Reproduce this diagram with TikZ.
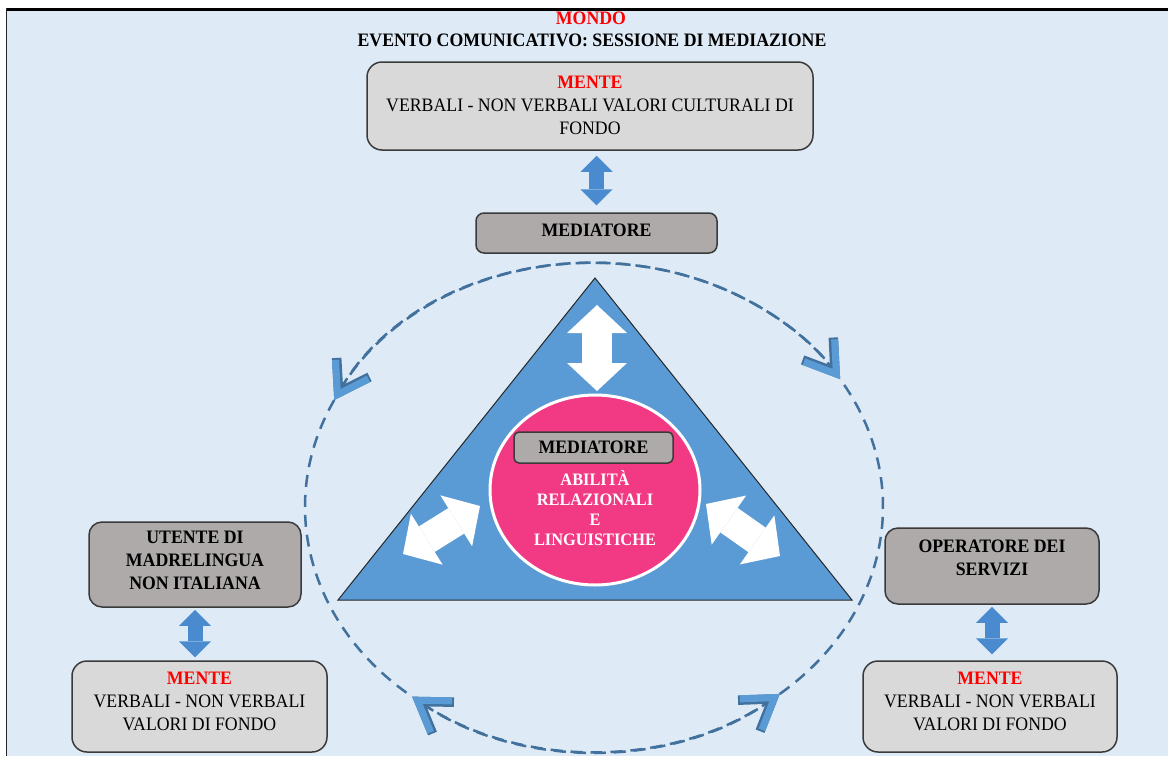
\documentclass[tikz,border=0pt]{standalone}
\usepackage{fontspec}
\setmainfont{Liberation Serif}[FakeStretch=0.935]
\usetikzlibrary{arrows.meta,shapes.geometric}

\definecolor{paneblue}{HTML}{DEEAF6}
\definecolor{mindgray}{HTML}{D9D9D9}
\definecolor{rolegray}{HTML}{AEAAAA}
\definecolor{edgegray}{HTML}{3A3A3A}
\definecolor{triblue}{HTML}{5B9BD5}
\definecolor{linkblue}{HTML}{4A8BD0}
\definecolor{ringblue}{HTML}{41719C}
\definecolor{coreink}{HTML}{F23A84}
\definecolor{alertred}{HTML}{FF0000}

\begin{document}
\begin{tikzpicture}[x=1pt, y=-1pt,
  txt/.style={align=center, inner sep=0pt, font=\fontsize{19}{23}\selectfont},
  boldtxt/.style={align=center, inner sep=0pt, font=\fontsize{19}{23}\selectfont\bfseries},
  mindbox/.style={draw=edgegray, line width=1.5pt, fill=mindgray, rounded corners=15pt, inner sep=0pt},
  rolebox/.style={draw=edgegray, line width=1.5pt, fill=rolegray, rounded corners=13pt, inner sep=0pt},
  linkarrow/.style={draw=linkblue, line width=15pt, >={Triangle[length=16pt,width=32pt,line width=0pt]}, <->},
  innerarrow/.style={draw=white, line width=30pt, >={Triangle[length=28pt,width=60pt,line width=0pt]}, <->},
  ring/.style={draw=ringblue, line width=2.5pt, dash pattern=on 12pt off 8pt},
  ringtipsedge/.style={ring, >={Straight Barb[length=29pt,width=38pt,line width=9.5pt,color=ringblue,sharp]}, <->},
  ringtips/.style={ring, >={Straight Barb[length=29pt,width=38pt,line width=7pt,color=triblue,sharp]}, <->},
  ellarc/.style={x radius=289, y radius=244},
]
% page and frame
\useasboundingbox (0,0) rectangle (1168,756);
\fill[white] (0,0) rectangle (1168,756);
\fill[paneblue] (7,11) rectangle (1168,756);
\draw[black, line width=3pt] (6,9.5) -- (1168,9.5);
\draw[black!85, line width=1.5pt] (6.5,8) -- (6.5,756);

% heading
\node[boldtxt, text=alertred] (world) at (591,18) {MONDO};
\node[boldtxt] (event) at (592,40) {EVENTO COMUNICATIVO: SESSIONE DI MEDIAZIONE};

% mediator's mind and role
\node[mindbox, minimum width=446pt, minimum height=88pt] (mindT) at (590,106) {};
\node[txt] (mindTt) at (590,105) {\textbf{\textcolor{alertred}{MENTE}}\\VERBALI - NON VERBALI VALORI CULTURALI DI\\FONDO};
\node[rolebox, minimum width=241pt, minimum height=40pt, rounded corners=8pt] (med) at (596.5,233) {};
\node[boldtxt] (medt) at (596.5,230) {MEDIATORE};
\draw[linkarrow, shorten <=5pt, shorten >=7pt] (mindT.south -| med.north) -- (med.north);

% dashed ring around the triangle, two-headed on the upper and lower arcs
\coordinate (ringc) at (594,507);
\foreach \tipstyle in {ringtipsedge, ringtips} {
  \draw[\tipstyle] (ringc) ++(-154:289 and 244) arc[start angle=-154, end angle=-31.6, ellarc];
  \draw[\tipstyle] (ringc) ++(129:289 and 244) arc[start angle=129, end angle=50, ellarc];
}
\draw[ring] (ringc) ++(-154:289 and 244) arc[start angle=-154, end angle=-231, ellarc];
\draw[ring] (ringc) ++(50:289 and 244) arc[start angle=50, end angle=-31.6, ellarc];

% triangle of the exchange
\coordinate (triA) at (595,278);
\coordinate (triB) at (852,600);
\coordinate (triC) at (338,600);
\filldraw[fill=triblue, draw=black!85, line width=1pt] (triA) -- (triB) -- (triC) -- cycle;

% white two-way arrows
\coordinate (tipTa) at (597,305); \coordinate (tipTb) at (597,391);
\draw[innerarrow] (tipTa) -- (tipTb);
\coordinate (tipLa) at (403,554); \coordinate (tipLb) at (480,506);
\draw[innerarrow] (tipLa) -- (tipLb);
\coordinate (tipRa) at (706,504); \coordinate (tipRb) at (780,556);
\draw[innerarrow] (tipRa) -- (tipRb);

% mediator core
\node[ellipse, draw=white, line width=3pt, fill=coreink, minimum width=210pt, minimum height=190pt, inner sep=0pt] (core) at (595,490) {};
\node[rolebox, minimum width=159pt, minimum height=31pt, rounded corners=5pt, font=\fontsize{19}{23}\selectfont\bfseries] (medin) at (593.5,447.5) {MEDIATORE};
\node[align=center, inner sep=0pt, text=white, font=\fontsize{17.5}{20}\selectfont\bfseries] (skills) at (595,508) {ABILITÀ\\RELAZIONALI\\E\\LINGUISTICHE};

% user side
\node[rolebox, minimum width=212pt, minimum height=85pt] (user) at (195,564.5) {};
\node[boldtxt] (usert) at (195,560) {UTENTE DI\\MADRELINGUA\\NON ITALIANA};
\node[mindbox, minimum width=255pt, minimum height=91pt] (mindL) at (199.5,706.5) {};
\node[txt] (mindLt) at (199.5,701) {\textbf{\textcolor{alertred}{MENTE}}\\VERBALI - NON VERBALI\\VALORI DI FONDO};
\draw[linkarrow, shorten <=2pt, shorten >=3pt] (user.south) -- (user.south |- mindL.north);

% service side
\node[rolebox, minimum width=214pt, minimum height=76pt] (oper) at (992,566) {};
\node[boldtxt] (opert) at (992,558) {OPERATORE DEI\\SERVIZI};
\node[mindbox, minimum width=254pt, minimum height=91pt] (mindR) at (990,706.5) {};
\node[txt] (mindRt) at (990,701) {\textbf{\textcolor{alertred}{MENTE}}\\VERBALI - NON VERBALI\\VALORI DI FONDO};
\draw[linkarrow, shorten <=2pt, shorten >=6pt] (oper.south) -- (oper.south |- mindR.north);
\end{tikzpicture}
\end{document}
